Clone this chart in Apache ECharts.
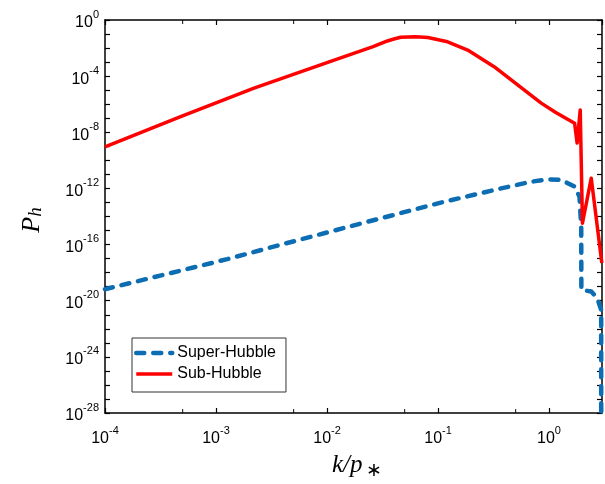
<!DOCTYPE html>
<html>
<head>
<meta charset="utf-8">
<script src="https://cdn.jsdelivr.net/npm/echarts@6/dist/echarts.min.js"></script>
<style>html,body{margin:0;padding:0;background:#fff}#c{width:605px;height:484px}</style>
</head>
<body>
<div id="c"></div>
<script>
// Sub-Hubble (red solid): k/p* and P_h
const kSub = [1e-4, 4.8e-4, 2.2e-3, 1e-2, 2.6e-2, 3.5e-2, 4.0e-2, 4.6e-2, 6.3e-2, 8.1e-2, 0.122, 0.185, 0.32, 0.85, 1.16, 1.70, 1.79, 1.91, 2.0, 2.40, 2.99];
const pSub = [9.3e-10, 1.3e-7, 1.4e-5, 9.1e-4, 1.26e-2, 3.2e-2, 4.4e-2, 5.9e-2, 6.3e-2, 5.6e-2, 2.8e-2, 7.2e-3, 4.7e-4, 1.2e-6, 2.5e-7, 4.4e-8, 1.7e-9, 3.9e-7, 3.3e-15, 5.4e-12, 4.9e-18];
// Super-Hubble (blue dashed)
const kSuper = [1e-4, 1.26e-3, 3.3e-3, 1.58e-2, 0.106, 0.37, 0.69, 0.98, 1.29, 1.70, 1.88, 1.95, 1.955, 2.40, 2.72, 2.95, 2.95];
const pSuper = [6.6e-20, 9.1e-18, 7.1e-17, 1.9e-15, 9.8e-14, 1.0e-12, 3.0e-12, 4.5e-12, 4.0e-12, 1.35e-12, 2.6e-13, 1.9e-15, 5.9e-20, 4.5e-20, 1.5e-20, 2.2e-21, 1e-30];
// axis ranges (decades)
const kRange = [1e-4, 3];
const pRange = [1e-28, 1];
// minor ticks on the k axis
const kMinorTicks = [5e-4, 5e-3, 5e-2, 5e-1];
const seriesNames = ['Super-Hubble', 'Sub-Hubble'];

const L = Math.log10;
const zipLog = (a, b) => a.map((v, i) => [L(v), L(b[i])]);
const isInt = v => Math.abs(v - Math.round(v)) < 1e-6;

const labelRich = {
  b: {fontFamily: 'Liberation Sans', fontSize: 16, color: '#000', lineHeight: 22, verticalAlign: 'bottom'},
  s: {fontFamily: 'Liberation Sans', fontSize: 11, color: '#000', lineHeight: 22, verticalAlign: 'top'}
};
const fmt = (v, every) => {
  if (!isInt(v)) return '';
  const e = Math.round(v);
  if (e % every !== 0) return '';
  return '{b|10}{s|' + e + '}';
};

const axisCommon = {
  type: 'value',
  interval: 1,
  axisLine: {show: true, onZero: false, lineStyle: {color: '#000', width: 1.5}},
  axisTick: {show: true, inside: true, length: 5, lineStyle: {color: '#000', width: 1.2}},
  splitLine: {show: false}
};
const xMin = L(kRange[0]), xMax = L(kRange[1]);
const yMin = L(pRange[0]), yMax = L(pRange[1]);

const serif = 'Liberation Serif';
const chart = echarts.init(document.getElementById('c'), null, {renderer: 'canvas'});
chart.setOption({
  animation: false,
  backgroundColor: '#fff',
  grid: {left: 105, right: 3, top: 20, bottom: 71, containLabel: false, outerBoundsMode: 'none'},
  xAxis: [
    Object.assign({}, axisCommon, {min: xMin, max: xMax, position: 'bottom',
      axisLabel: {show: true, interval: 0, margin: 12, formatter: v => fmt(v, 1), rich: labelRich, showMinLabel: true, showMaxLabel: true}}),
    Object.assign({}, axisCommon, {min: xMin, max: xMax, position: 'top', axisLabel: {show: false}})
  ],
  yAxis: [
    Object.assign({}, axisCommon, {min: yMin, max: yMax, position: 'left',
      axisLabel: {show: true, interval: 0, margin: 6, formatter: v => fmt(v, 4), rich: labelRich, showMinLabel: true, showMaxLabel: true}}),
    Object.assign({}, axisCommon, {min: yMin, max: yMax, position: 'right', axisLabel: {show: false}})
  ],
  legend: {
    data: [
      {name: seriesNames[0], lineStyle: {width: 4.5, type: [8, 9], cap: 'round', color: '#0c6db3'}},
      {name: seriesNames[1], lineStyle: {width: 3.5, color: '#ff0000'}}
    ],
    left: 132, top: 338, orient: 'vertical',
    itemWidth: 36, itemHeight: 16, itemGap: 5,
    padding: [7, 10, 10, 2],
    borderColor: '#333', borderWidth: 1, borderRadius: 0,
    backgroundColor: '#fff',
    itemStyle: {opacity: 0, borderWidth: 0},
    textStyle: {fontFamily: 'Liberation Sans', fontSize: 16, color: '#000'}
  },
  series: [
    {
      name: seriesNames[0], type: 'line', data: zipLog(kSuper, pSuper), symbol: 'none', showSymbol: false, clip: true,
      xAxisIndex: 0, yAxisIndex: 0, z: 3,
      lineStyle: {color: '#0c6db3', width: 4.5, type: [8, 9], cap: 'round', join: 'round'},
      itemStyle: {color: '#0c6db3'}
    },
    {
      name: seriesNames[1], type: 'line', data: zipLog(kSub, pSub), symbol: 'none', showSymbol: false, clip: true,
      xAxisIndex: 0, yAxisIndex: 0, z: 4,
      lineStyle: {color: '#ff0000', width: 3.5, join: 'round'},
      itemStyle: {color: '#ff0000'}
    },
    {
      type: 'scatter', silent: true, data: kMinorTicks.map(k => [L(k), yMin]),
      symbol: 'rect', symbolSize: [1.2, 4], symbolOffset: [0, -2], itemStyle: {color: '#000'}, clip: false, z: 5
    },
    {
      type: 'scatter', silent: true, data: kMinorTicks.map(k => [L(k), yMax]),
      symbol: 'rect', symbolSize: [1.2, 4], symbolOffset: [0, 2], itemStyle: {color: '#000'}, clip: false, z: 5
    }
  ],
  graphic: [
    {
      type: 'text', x: 30, y: 220, rotation: Math.PI / 2,
      style: {
        text: '{i|P}{s|h}', align: 'center', verticalAlign: 'middle',
        rich: {
          i: {fontFamily: serif, fontStyle: 'italic', fontSize: 26, fill: '#000', verticalAlign: 'bottom', lineHeight: 30},
          s: {fontFamily: serif, fontStyle: 'italic', fontSize: 19, fill: '#000', verticalAlign: 'bottom', lineHeight: 14}
        }
      }
    },
    {
      type: 'text', x: 332, y: 465,
      style: {text: 'k/p', align: 'left', verticalAlign: 'middle',
        fontFamily: serif, fontStyle: 'italic', fontSize: 25, fill: '#000'}
    },
    {
      type: 'text', x: 366, y: 471,
      style: {text: '∗', align: 'left', verticalAlign: 'middle',
        fontFamily: serif, fontSize: 19, fill: '#000'}
    }
  ]
});
</script>
</body>
</html>
